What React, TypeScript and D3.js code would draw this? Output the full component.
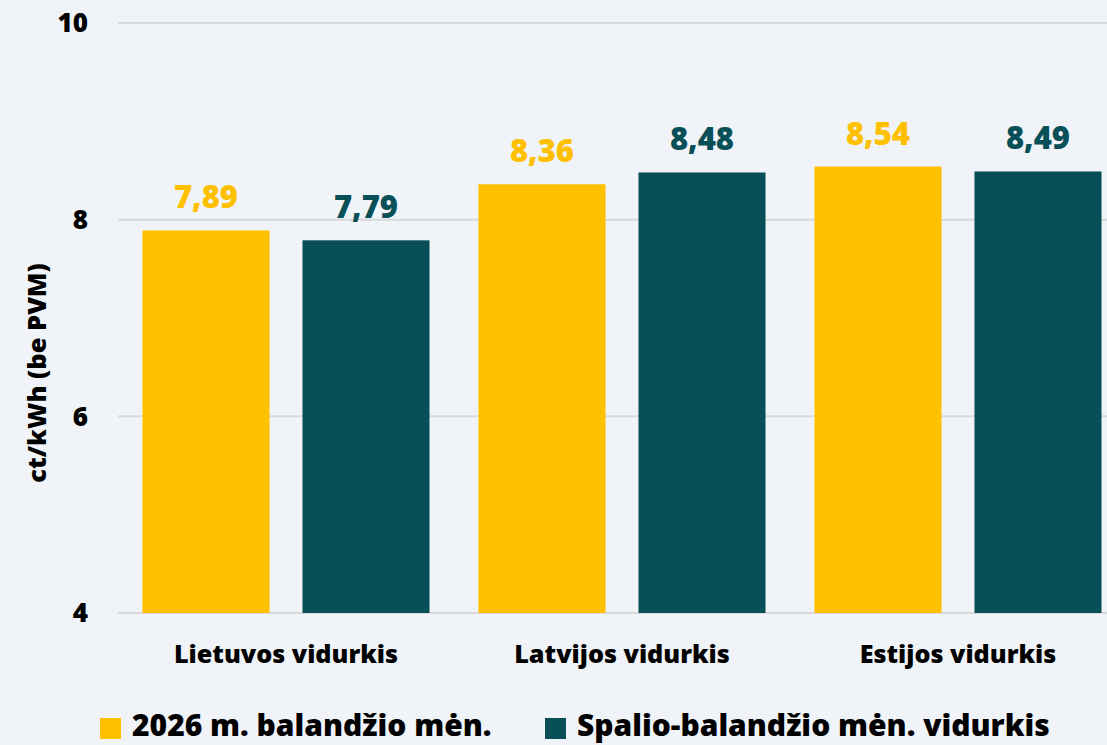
import React from "react";
import * as d3 from "d3";

const categories = ["Lietuvos vidurkis", "Latvijos vidurkis", "Estijos vidurkis"];
const seriesNames = ["2026 m. balandžio mėn.", "Spalio-balandžio mėn. vidurkis"];
const series2026 = [7.89, 8.36, 8.54];
const seriesAvg = [7.79, 8.48, 8.49];
const yTicks = [4, 6, 8, 10];
const colors = ["#FFC000", "#084F58"];

const W = 1107;
const H = 745;
const FONT = "'Open Sans', sans-serif";

export default function App() {
  const y = d3.scaleLinear().domain([4, 10]).range([613, 23]);
  const x0 = d3.scaleBand<string>().domain(categories).range([118, 1126]).padding(0);
  const x1 = d3
    .scaleBand<string>()
    .domain(seriesNames)
    .range([0, x0.bandwidth()])
    .paddingInner(0.206)
    .paddingOuter(0.153);
  const values = [series2026, seriesAvg];
  const fmt = (v: number) => v.toFixed(2).replace(".", ",");

  const legendX = [100, 545];

  return (
    <svg
      width={W}
      height={H}
      style={{ position: "absolute", left: 0, top: 0, background: "#F0F3F7" }}
      fontFamily={FONT}
      fontWeight={800}
    >
      <rect x={0} y={0} width={W} height={H} fill="#F0F3F7" />
      {yTicks.map((t) => (
        <g key={t}>
          <line x1={118} x2={W} y1={y(t)} y2={y(t)} stroke="#D9D9D9" strokeWidth={2} />
          <text x={88} y={y(t)} dy="0.36em" textAnchor="end" fontSize={26} fill="#000">
            {t}
          </text>
        </g>
      ))}
      <text
        transform={`translate(46, 373) rotate(-90)`}
        textAnchor="middle"
        fontSize={25.5}
        fill="#000"
      >
        ct/kWh (be PVM)
      </text>
      {categories.map((c, i) => (
        <g key={c} transform={`translate(${x0(c)},0)`}>
          {seriesNames.map((s, j) => {
            const v = values[j][i];
            const bx = x1(s)!;
            return (
              <g key={s}>
                <rect x={bx} y={y(v)} width={x1.bandwidth()} height={y(4) - y(v)} fill={colors[j]} />
                <text
                  x={bx + x1.bandwidth() / 2}
                  y={y(v) - 22}
                  textAnchor="middle"
                  fontSize={31}
                  fill={colors[j]}
                >
                  {fmt(v)}
                </text>
              </g>
            );
          })}
          <text x={x0.bandwidth() / 2} y={663} textAnchor="middle" fontSize={25.2} fill="#000">
            {c}
          </text>
        </g>
      ))}
      {seriesNames.map((s, j) => (
        <g key={s}>
          <rect x={legendX[j]} y={718} width={21} height={21} fill={colors[j]} />
          <text x={legendX[j] + 32} y={736} fontSize={30} fill="#000">
            {s}
          </text>
        </g>
      ))}
    </svg>
  );
}
